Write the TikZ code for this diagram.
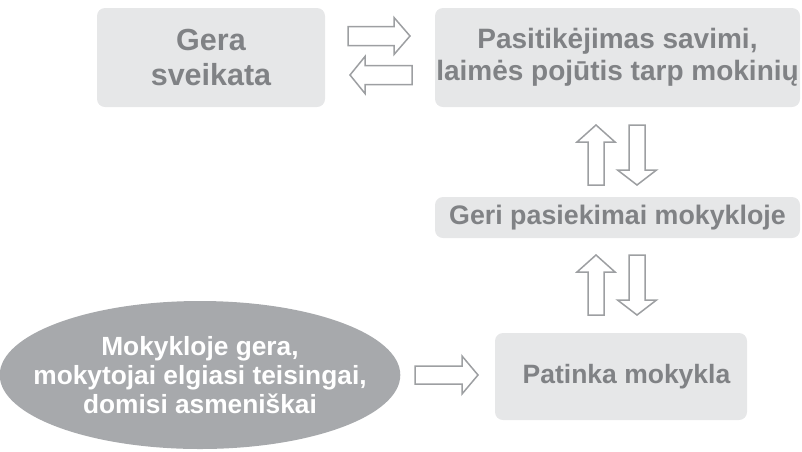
\documentclass[tikz,border=0pt]{standalone}
\usepackage{fontspec}
\setmainfont{Liberation Sans}
\usetikzlibrary{shapes.geometric}
\definecolor{boxfill}{HTML}{E6E7E8}
\definecolor{boxtext}{HTML}{808285}
\definecolor{ellfill}{HTML}{A7A9AC}
\definecolor{arrline}{HTML}{9D9FA2}
\tikzset{
 box/.style={fill=boxfill, rounded corners=8pt, inner sep=0pt, text=boxtext, align=center},
 arrowline/.style={draw=arrline, line width=1.5pt, fill=white, line join=miter},
 pics/barrow/.style n args={4}{code={\path[arrowline] (0,-#2)--({#1-#4},-#2)--({#1-#4},-#3)--(#1,0)--({#1-#4},#3)--({#1-#4},#2)--(0,#2)--cycle;}}
}
\begin{document}
\begin{tikzpicture}[x=1pt,y=-1pt]
\useasboundingbox (0,0) rectangle (802,451);
\node[box, minimum width=228pt, minimum height=99pt, font=\bfseries\fontsize{30.5}{35}\selectfont] (health) at (211,57.5) {Gera\\sveikata};
\node[box, minimum width=365pt, minimum height=99pt, font=\bfseries\fontsize{28}{32}\selectfont] (conf) at (617.5,57.5) {Pasitikėjimas savimi,\\laimės pojūtis tarp mokinių};
\node[box, minimum width=365pt, minimum height=41pt, font=\bfseries\fontsize{26.8}{30}\selectfont] (achieve) at (617.5,217.5) {Geri pasiekimai mokykloje};
\node[box, minimum width=252pt, minimum height=87pt, font=\bfseries\fontsize{26.5}{30}\selectfont] (likes) at (621,376.5) {\hspace*{11pt}Patinka mokykla};
\node[ellipse, fill=ellfill, text=white, inner xsep=-25pt, inner ysep=0pt, minimum height=148pt, align=center, font=\bfseries\fontsize{26.3}{29}\selectfont] (school) at (200,375) {Mokykloje gera,\\mokytojai elgiasi teisingai,\\domisi asmeniškai};
% arrows
\pic at (348,36) {barrow={62}{9.5}{18.5}{16}};
\pic[rotate=180] at (412,75) {barrow={62}{9.5}{18.5}{15}};
\pic[rotate=90] at (596,185) {barrow={60}{8}{19}{17}};
\pic[rotate=-90] at (637,125) {barrow={60}{8}{19.5}{15}};
\pic[rotate=90] at (596,315) {barrow={60}{8}{19}{17}};
\pic[rotate=-90] at (637,255) {barrow={60}{8}{19.5}{15}};
\pic at (415,375) {barrow={63}{9}{19}{16}};
\end{tikzpicture}
\end{document}
